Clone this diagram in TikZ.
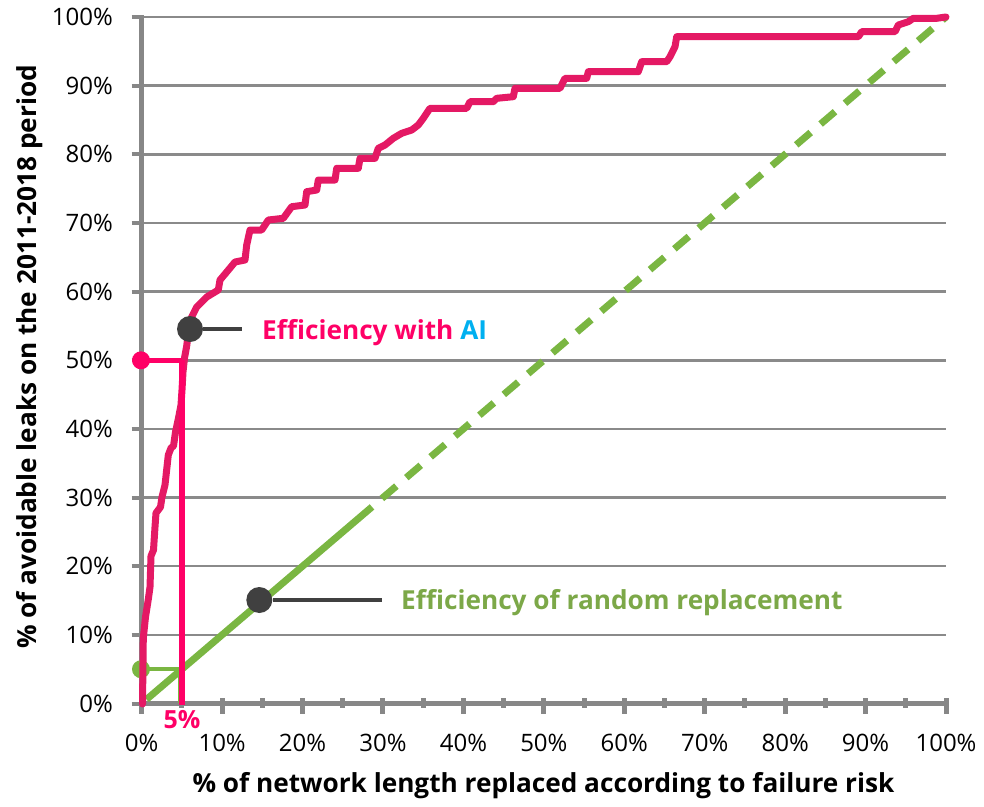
\documentclass[tikz,border=0pt]{standalone}
\usepackage{fontspec}
\setmainfont{Open Sans}
\definecolor{curvered}{RGB}{228,25,100}
\definecolor{hotpink}{RGB}{255,0,102}
\definecolor{leafgreen}{RGB}{122,182,66}
\definecolor{labelgreen}{RGB}{124,168,72}
\definecolor{aicyan}{RGB}{0,176,240}
\definecolor{markgray}{RGB}{64,64,64}
\definecolor{gridgray}{RGB}{138,138,138}
\definecolor{axisgray}{RGB}{135,135,135}
\begin{document}
\begin{tikzpicture}[x=1pt,y=-1pt,
  gridrule/.style={draw=gridgray, line width=2.5pt},
  axisline/.style={draw=axisgray, line width=5pt},
  tickmark/.style={draw=axisgray, line width=5pt},
  ticklab/.style={font=\fontsize{24}{28}\selectfont, text=black, inner sep=0pt},
  axtitle/.style={font=\fontsize{26.2}{30}\selectfont\bfseries, text=black, inner sep=0pt},
  legendlab/.style={font=\fontsize{26.2}{31}\selectfont\bfseries, inner sep=0pt, anchor=base west},
  curve/.style={draw=curvered, line width=7pt, line join=round, line cap=round},
  randline/.style={draw=leafgreen, line width=7pt},
  marker/.style={circle, fill=markgray, minimum size=26pt, inner sep=0pt},
  leader/.style={draw=markgray, line width=3.5pt},
  refdot/.style={circle, minimum size=18pt, inner sep=0pt}]
\useasboundingbox (0,0) rectangle (984,806);

% horizontal grid lines every 10 %
\foreach \i in {1,...,10}
  \draw[gridrule] (141.7,{703.5-68.65*\i}) -- (946,{703.5-68.65*\i});

% y axis with its ticks and labels
\draw[axisline] (141.7,706) -- (141.7,14.5);
\foreach \i in {0,...,10}{
  \pgfmathtruncatemacro\v{10*\i}
  \draw[tickmark, line width=4pt] (131.5,{703.5-68.65*\i}) -- (141.7,{703.5-68.65*\i});
  \node[ticklab, anchor=east] (yl\i) at (113,{703.5-68.65*\i}) {\v\%};
}

% x axis with major (10 %) and minor (5 %) ticks
\draw[axisline] (139.2,703.5) -- (948.5,703.5);
\foreach \i in {0,...,10}{
  \pgfmathtruncatemacro\v{10*\i}
  \draw[tickmark] ({141.7+80.43*\i},698) -- ({141.7+80.43*\i},714);
  \node[ticklab] (xl\i) at ({141.7+80.43*\i},743) {\v\%};
}
\foreach \i in {0,...,9}
  \draw[tickmark] ({181.9+80.43*\i},698) -- ({181.9+80.43*\i},708);

% axis titles
\node[axtitle] (xtitle) at (543.5,786) {\% of network length replaced according to failure risk};
\node[axtitle, rotate=90] (ytitle) at (30,357) {\% of avoidable leaks on the 2011-2018 period};

% random replacement: y = x
\coordinate (g0) at (146.5,699.4);
\coordinate (g30) at (372,506.9);
\coordinate (g100) at (946,17);
\draw[randline] (g0) -- (g30);
\draw[randline, dash pattern=on 19pt off 13.04pt, dash phase=19pt] (g30) -- (g100);

% reading at 5 % of the network for the random case
\node[refdot, fill=leafgreen] (d5) at (141,669.2) {};
\coordinate (h5) at (179,669.2);
\coordinate (h5b) at (179,703);
\draw[leafgreen, line width=4.5pt] (d5.center) -- (h5);
\draw[leafgreen, line width=2pt] (h5) -- (h5b);

% AI-driven replacement curve
\draw[curve] plot coordinates {
(142.5,704) (143.3,638) (145.5,617) (148.5,598) (150,587) (151,556) (153.5,550)
(155,527) (156,513) (160.5,507) (162,497) (165,485) (168.3,455) (171,448)
(173.5,446) (175.5,432) (178.5,418) (181,405) (182,390) (183,372) (184.5,358)
(186.7,346) (188.3,333) (191.7,317) (196.7,307) (206.7,297) (218.3,290) (220,280)
(226.7,272) (235,262) (245,260) (246.7,245) (250,230) (261.7,230) (268.3,220)
(283.3,218.3) (291.7,206.7) (305,205) (306.7,191.7) (316.7,190) (318.3,180)
(335,180) (336.7,168.3) (358.3,168.3) (360,158.3) (375,158.3) (378.3,148.3)
(385,145) (393.3,138.3) (401.7,133.3) (411.7,130) (418.3,125) (423.3,118.3)
(430,108.3) (466.7,108.3) (470,101.7) (493.3,101.7) (496.7,98.3) (513.3,96.7)
(515,88.3) (560,88.3) (565,78.3) (586.7,78.3) (588.3,71.7) (638.3,71.7)
(641.7,61.7) (666.7,61.7) (670,56.7) (675,46.7) (676.7,36.7) (858.3,36.7)
(861.7,31.7) (895,31.7) (898.3,25) (908.3,21.7) (913.3,18.3) (936.7,18.3) (946,17)};

% reading at 5 % of the network for the AI case
\node[refdot, fill=hotpink] (d50) at (141,360.3) {};
\coordinate (h50) at (182,360.3);
\coordinate (h50b) at (182,705);
\draw[hotpink, line width=4.5pt] (d50.center) -- (h50);
\draw[hotpink, line width=6pt] (h50) -- (h50b);
\node[font=\fontsize{25}{29}\selectfont\bfseries, text=hotpink, inner sep=0pt] (five) at (182,720) {5\%};

% callouts
\node[marker] (mAI) at (190,329) {};
\coordinate (eAI) at (242,329);
\draw[leader] (mAI) -- (eAI);
\node[legendlab, text=hotpink] (labAI) at (262,339) {Efficiency with \textcolor{aicyan}{AI}};

\node[marker] (mRand) at (259.3,600) {};
\coordinate (eRand) at (382,600);
\draw[leader] (mRand) -- (eRand);
\node[legendlab, text=labelgreen] (labRand) at (401,609.5) {Efficiency of random replacement};
\end{tikzpicture}
\end{document}
